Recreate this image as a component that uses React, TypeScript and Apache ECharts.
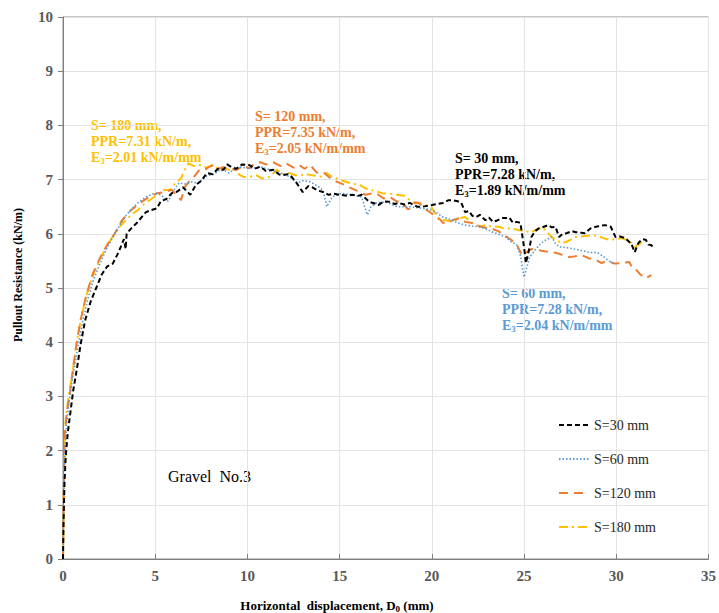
import React, { useEffect, useRef } from "react";
import * as echarts from "echarts";

const seriesNames = ["S=30 mm", "S=60 mm", "S=120 mm", "S=180 mm"];
const seriesColors = ["#000000", "#5B9BD5", "#ED7D31", "#FFC000"];

const s30: number[][] = [
  [0, 0], [0.03, 0.7], [0.08, 1.4], [0.15, 1.9], [0.25, 2.3], [0.4, 2.7], [0.55, 3.1], [0.75, 3.5], [0.95, 3.95], [1.2, 4.4],
  [1.5, 4.75], [1.8, 5.0], [2.1, 5.25], [2.4, 5.4], [2.7, 5.45], [3.0, 5.65], [3.3, 5.9], [3.4, 5.72], [3.45, 6.0], [3.7, 6.1],
  [4.0, 6.2], [4.5, 6.4], [4.8, 6.44], [5.1, 6.47], [5.3, 6.6], [5.6, 6.64], [5.9, 6.75], [6.2, 6.78], [6.5, 6.86], [6.9, 6.72],
  [7.2, 6.9], [7.5, 6.98], [7.8, 7.12], [8.1, 7.1], [8.4, 7.2], [8.7, 7.18], [8.9, 7.28], [9.2, 7.22], [9.4, 7.2], [9.7, 7.28],
  [10.1, 7.27], [10.4, 7.2], [10.7, 7.24], [11.0, 7.16], [11.4, 7.18], [11.7, 7.1], [11.9, 7.08], [12.2, 7.1], [12.4, 7.05], [12.7, 6.92],
  [13.0, 6.77], [13.3, 6.88], [13.5, 6.86], [13.8, 6.8], [14.1, 6.77], [14.4, 6.72], [14.7, 6.74], [15.0, 6.72], [15.4, 6.7], [15.7, 6.72],
  [16.0, 6.7], [16.2, 6.72], [16.6, 6.59], [16.9, 6.56], [17.1, 6.53], [17.4, 6.6], [17.7, 6.59], [18.0, 6.55], [18.2, 6.57], [18.5, 6.54],
  [18.8, 6.57], [19.2, 6.5], [19.5, 6.5], [19.8, 6.52], [20.0, 6.53], [20.3, 6.55], [20.6, 6.57], [20.9, 6.62], [21.1, 6.62], [21.4, 6.6],
  [21.6, 6.57], [21.8, 6.4], [22.0, 6.42], [22.2, 6.33], [22.4, 6.31], [22.6, 6.35], [22.9, 6.25], [23.1, 6.3], [23.3, 6.22], [23.5, 6.24],
  [23.8, 6.29], [24.0, 6.29], [24.2, 6.3], [24.4, 6.2], [24.6, 6.22], [24.8, 6.2], [25.0, 5.75], [25.1, 5.46], [25.3, 5.75], [25.4, 5.94],
  [25.6, 6.05], [25.8, 6.1], [26.0, 6.12], [26.3, 6.16], [26.5, 6.12], [26.7, 6.13], [26.9, 5.94], [27.1, 6.0], [27.3, 6.01], [27.6, 6.05],
  [27.8, 6.03], [28.1, 6.02], [28.3, 6.01], [28.6, 6.1], [28.9, 6.13], [29.2, 6.15], [29.4, 6.16], [29.7, 6.13], [29.96, 5.94], [30.2, 5.95],
  [30.5, 5.92], [30.7, 5.85], [30.8, 5.83], [31.0, 5.66], [31.2, 5.83], [31.4, 5.9], [31.6, 5.89], [31.75, 5.8], [31.9, 5.79], [32.0, 5.75],
];

const s60: number[][] = [
  [0, 0], [0.02, 0.6], [0.05, 1.3], [0.1, 2.0], [0.2, 2.5], [0.35, 2.95], [0.55, 3.4], [0.8, 3.9], [1.05, 4.35], [1.35, 4.8],
  [1.65, 5.15], [2.0, 5.45], [2.4, 5.75], [2.8, 6.0], [3.35, 6.31], [3.7, 6.45], [4.06, 6.57], [4.5, 6.68], [4.98, 6.75], [5.3, 6.72],
  [5.7, 6.6], [6.0, 6.8], [6.3, 6.94], [6.6, 6.92], [7.0, 6.96], [7.3, 6.93], [7.8, 7.07], [8.2, 7.1], [8.5, 7.18], [8.8, 7.16],
  [9.0, 7.12], [9.3, 7.2], [9.6, 7.23], [10.1, 7.21], [10.5, 7.22], [10.8, 7.23], [11.2, 7.18], [11.6, 7.14], [12.0, 7.1], [12.3, 7.05],
  [12.7, 6.94], [13.0, 6.98], [13.4, 6.96], [13.9, 6.86], [14.1, 6.8], [14.3, 6.5], [14.6, 6.68], [15.1, 6.75], [15.4, 6.73], [15.7, 6.72],
  [16.2, 6.68], [16.35, 6.5], [16.5, 6.35], [16.7, 6.5], [17.0, 6.57], [17.5, 6.59], [17.8, 6.55], [18.1, 6.5], [18.8, 6.5], [19.3, 6.48],
  [20.0, 6.44], [20.3, 6.38], [20.6, 6.31], [21.1, 6.25], [21.4, 6.2], [21.8, 6.16], [22.2, 6.14], [22.6, 6.13], [23.0, 6.08], [23.3, 6.03],
  [23.7, 5.98], [24.0, 5.94], [24.3, 5.85], [24.6, 5.8], [24.8, 5.6], [25.0, 5.2], [25.3, 5.57], [25.6, 5.7], [25.9, 5.82], [26.2, 5.89],
  [26.5, 5.94], [26.7, 5.82], [26.9, 5.76], [27.4, 5.74], [28.0, 5.7], [28.5, 5.66], [29.0, 5.65], [29.3, 5.58], [29.6, 5.5], [29.9, 5.45],
];

const s120: number[][] = [
  [0, 0], [0.02, 0.6], [0.04, 1.2], [0.07, 1.8], [0.1, 2.3], [0.2, 2.7], [0.35, 3.0], [0.5, 3.4], [0.7, 3.9], [0.95, 4.4],
  [1.25, 4.85], [1.6, 5.25], [2.0, 5.55], [2.4, 5.8], [2.8, 6.0], [3.2, 6.25], [3.7, 6.44], [4.1, 6.55], [4.4, 6.62], [4.8, 6.7],
  [5.1, 6.75], [5.5, 6.77], [5.9, 6.81], [6.2, 6.7], [6.4, 6.62], [6.6, 6.86], [6.9, 6.99], [7.1, 7.05], [7.4, 7.18], [7.7, 7.18],
  [7.9, 7.23], [8.2, 7.27], [8.5, 7.2], [8.7, 7.23], [9.0, 7.2], [9.4, 7.18], [9.8, 7.25], [10.1, 7.21], [10.4, 7.3], [10.7, 7.32],
  [11.0, 7.28], [11.4, 7.32], [11.8, 7.25], [12.1, 7.3], [12.5, 7.22], [12.8, 7.27], [13.1, 7.2], [13.4, 7.27], [13.7, 7.15], [13.9, 7.1],
  [14.2, 7.12], [14.4, 7.05], [14.7, 6.98], [15.0, 6.94], [15.3, 6.9], [15.5, 6.86], [15.9, 6.8], [16.4, 6.72], [16.8, 6.75], [17.1, 6.72],
  [17.4, 6.65], [17.7, 6.68], [18.1, 6.6], [18.4, 6.57], [18.7, 6.45], [18.9, 6.48], [19.1, 6.58], [19.3, 6.57], [19.6, 6.47], [19.8, 6.42],
  [20.1, 6.35], [20.4, 6.28], [20.6, 6.2], [20.9, 6.22], [21.2, 6.26], [21.5, 6.29], [21.8, 6.22], [22.2, 6.2], [22.5, 6.15], [22.9, 6.11],
  [23.2, 6.1], [23.6, 6.05], [23.9, 5.98], [24.3, 5.89], [24.6, 5.8], [24.9, 5.6], [25.1, 5.65], [25.4, 5.72], [25.7, 5.7], [26.1, 5.68],
  [26.4, 5.66], [26.7, 5.65], [27.0, 5.62], [27.4, 5.57], [27.7, 5.58], [28.1, 5.61], [28.5, 5.55], [28.9, 5.52], [29.2, 5.46], [29.5, 5.5],
  [29.9, 5.45], [30.3, 5.46], [30.7, 5.48], [30.9, 5.35], [31.1, 5.33], [31.3, 5.25], [31.6, 5.18], [31.9, 5.24],
];

const s180: number[][] = [
  [0, 0], [0.03, 0.8], [0.06, 1.5], [0.1, 2.2], [0.15, 2.6], [0.3, 3.0], [0.5, 3.4], [0.7, 3.9], [0.95, 4.4], [1.3, 4.9],
  [1.7, 5.3], [2.1, 5.6], [2.6, 5.9], [3.0, 6.1], [3.4, 6.25], [3.7, 6.35], [4.06, 6.44], [4.4, 6.55], [4.7, 6.62], [5.1, 6.72],
  [5.5, 6.81], [5.8, 6.81], [6.1, 6.94], [6.4, 7.02], [6.6, 7.18], [6.8, 7.3], [7.1, 7.25], [7.5, 7.27], [7.8, 7.22], [8.1, 7.27],
  [8.4, 7.2], [8.6, 7.23], [9.0, 7.18], [9.3, 7.18], [9.6, 7.08], [9.8, 7.05], [10.1, 7.05], [10.5, 7.08], [10.8, 7.02], [11.2, 7.05],
  [11.6, 7.18], [11.9, 7.1], [12.3, 7.12], [12.6, 7.08], [12.8, 7.08], [13.2, 7.1], [13.5, 7.08], [14.1, 7.05], [14.3, 7.12], [14.6, 7.05],
  [15.0, 7.0], [15.4, 6.95], [15.8, 6.92], [16.1, 6.9], [16.4, 6.84], [16.8, 6.8], [17.3, 6.75], [17.7, 6.74], [18.1, 6.72], [18.5, 6.7],
  [18.8, 6.62], [19.1, 6.57], [19.5, 6.56], [19.8, 6.5], [20.0, 6.48], [20.4, 6.25], [20.8, 6.25], [21.1, 6.22], [21.5, 6.29], [21.8, 6.31],
  [22.2, 6.2], [22.6, 6.13], [22.9, 6.16], [23.2, 6.14], [23.6, 6.13], [23.9, 6.1], [24.3, 6.1], [24.7, 6.07], [25.0, 6.05], [25.4, 6.03],
  [25.7, 6.08], [26.0, 6.12], [26.3, 6.02], [26.5, 5.94], [26.8, 5.88], [27.0, 5.83], [27.3, 5.85], [27.8, 5.94], [28.3, 5.96], [28.9, 5.97],
  [29.3, 5.92], [29.6, 5.89], [30.0, 5.9], [30.3, 5.92], [30.7, 5.87], [31.0, 5.76], [31.2, 5.8], [31.4, 5.85],
];

const seriesData = [s30, s60, s120, s180];
const dashes: any[] = [[5, 3], [1.5, 2], [9, 6], [9, 4, 2, 4]];
const widths = [2, 1.6, 2, 2];

const xTicks = { min: 0, max: 35, interval: 5 };
const yTicks = { min: 0, max: 10, interval: 1 };

const annotations = [
  { lines: ["S= 180 mm,", "PPR=7.31 kN/m,", "=2.01 kN/m/mm"], color: "#FFC000", x: 91, y: 125 },
  { lines: ["S= 120 mm,", "PPR=7.35 kN/m,", "=2.05 kN/m/mm"], color: "#ED7D31", x: 255, y: 116 },
  { lines: ["S= 30 mm,", "PPR=7.28 kN/m,", "=1.89 kN/m/mm"], color: "#000000", x: 455, y: 158 },
  { lines: ["S= 60 mm,", "PPR=7.28 kN/m,", "=2.04 kN/m/mm"], color: "#5B9BD5", x: 502, y: 293 },
];

const FONT = '"Liberation Serif", "Times New Roman", serif';

export default function App() {
  const ref = useRef<HTMLDivElement>(null);
  useEffect(() => {
    if (!ref.current) return;
    const chart = echarts.init(ref.current, undefined, { renderer: "svg" });

    const graphics: any[] = [];
    annotations.forEach((a) => {
      a.lines.forEach((ln, i) => {
        const isE = i === 2;
        graphics.push({
          type: "text",
          x: a.x,
          y: a.y + i * 16,
          style: {
            text: isE ? `{m|E}{s|3}{m|${ln}}` : `{m|${ln}}`,
            fill: a.color,
            rich: {
              m: { fontFamily: FONT, fontSize: 14, fontWeight: "bold", fill: a.color, color: a.color, lineHeight: 16 },
              s: { fontFamily: FONT, fontSize: 9, fontWeight: "bold", fill: a.color, color: a.color, lineHeight: 6, verticalAlign: "bottom" },
            },
            verticalAlign: "middle",
            align: "left",
          },
        });
      });
    });

    graphics.push({
      type: "text",
      x: 168,
      y: 476,
      style: { text: "Gravel  No.3", fontFamily: FONT, fontSize: 16, fill: "#000", verticalAlign: "middle", align: "left" },
    });
    graphics.push({
      type: "text",
      x: 337,
      y: 605,
      style: {
        text: "{m|Horizontal  displacement, D}{s|0}{m| (mm)}",
        fill: "#000",
        rich: {
          m: { fontFamily: FONT, fontSize: 13, fontWeight: "bold", fill: "#000", color: "#000", lineHeight: 16 },
          s: { fontFamily: FONT, fontSize: 9, fontWeight: "bold", fill: "#000", color: "#000", lineHeight: 6, verticalAlign: "bottom" },
        },
        align: "center",
        verticalAlign: "middle",
      },
    });
    graphics.push({
      type: "text",
      x: 18,
      y: 275,
      rotation: Math.PI / 2,
      style: { text: "Pullout Resistance (kN/m)", fontFamily: FONT, fontSize: 12, fontWeight: "bold", fill: "#000", align: "center", verticalAlign: "middle" },
    });

    const option: any = {
      animation: false,
      backgroundColor: "#ffffff",
      grid: { left: 63, right: 9, top: 17, bottom: 54, show: true, borderColor: "#8c8c8c", borderWidth: 1 },
      xAxis: {
        type: "value",
        min: xTicks.min,
        max: xTicks.max,
        interval: xTicks.interval,
        axisLine: { show: true, lineStyle: { color: "#7f7f7f", width: 1 } },
        axisTick: { show: true, inside: true, length: 5, lineStyle: { color: "#7f7f7f" } },
        axisLabel: { fontFamily: FONT, fontSize: 15, fontWeight: "bold", color: "#595959", margin: 9 },
        splitLine: { show: true, lineStyle: { color: "#e3e3e3", width: 1 } },
      },
      yAxis: {
        type: "value",
        min: yTicks.min,
        max: yTicks.max,
        interval: yTicks.interval,
        axisLine: { show: true, lineStyle: { color: "#7f7f7f", width: 1 } },
        axisTick: { show: true, inside: false, length: 5, lineStyle: { color: "#7f7f7f" } },
        axisLabel: { fontFamily: FONT, fontSize: 15, fontWeight: "bold", color: "#595959", margin: 10 },
        splitLine: { show: true, lineStyle: { color: "#e3e3e3", width: 1 } },
      },
      legend: {
        orient: "vertical",
        left: 553,
        top: 413,
        itemWidth: 30,
        itemHeight: 14,
        itemGap: 20,
        itemStyle: { opacity: 0 },
        textStyle: { fontFamily: FONT, fontSize: 14, color: "#262626" },
        data: seriesNames,
      },
      series: seriesData.map((d, i) => ({
        name: seriesNames[i],
        type: "line",
        data: d,
        symbol: "none",
        smooth: false,
        z: 10 - i,
        lineStyle: { color: seriesColors[i], width: widths[i], type: dashes[i] },
        itemStyle: { color: seriesColors[i] },
      })),
      graphic: graphics,
    };
    chart.setOption(option);
    return () => chart.dispose();
  }, []);
  return <div ref={ref} style={{ width: 719, height: 613, position: "absolute", left: 0, top: 0 }} />;
}
